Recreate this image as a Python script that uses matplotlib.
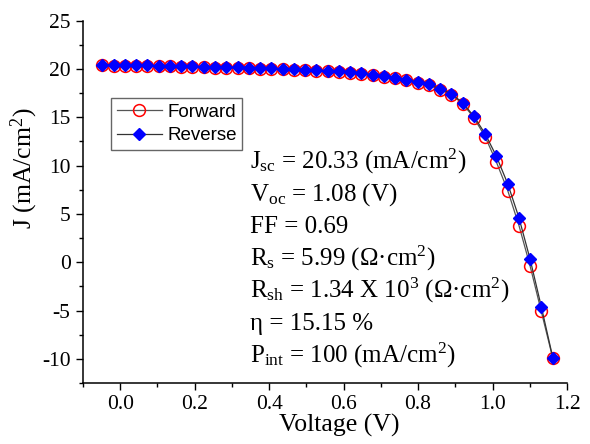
import numpy as np
import matplotlib
matplotlib.use("Agg")
import matplotlib.pyplot as plt

plt.rcParams['font.family'] = ['Liberation Serif', 'DejaVu Serif']
plt.rcParams['mathtext.fontset'] = 'custom'
plt.rcParams['mathtext.rm'] = 'Liberation Serif'
plt.rcParams['mathtext.default'] = 'regular'
plt.rcParams['axes.unicode_minus'] = False

# voltage (V)
voltage = [-0.048, -0.018, 0.012, 0.043, 0.073, 0.103, 0.133, 0.164, 0.194, 0.224,
           0.254, 0.285, 0.315, 0.345, 0.375, 0.406, 0.436, 0.466, 0.496, 0.527,
           0.557, 0.587, 0.617, 0.648, 0.678, 0.708, 0.738, 0.768, 0.799, 0.829,
           0.859, 0.889, 0.920, 0.950, 0.980, 1.010, 1.041, 1.071, 1.101, 1.131,
           1.162]
# current density (mA/cm2)
j_reverse = [20.45, 20.43, 20.41, 20.39, 20.37, 20.35, 20.33, 20.31, 20.28, 20.25,
             20.22, 20.19, 20.16, 20.13, 20.10, 20.06, 20.02, 19.98, 19.93, 19.88,
             19.82, 19.75, 19.66, 19.55, 19.42, 19.26, 19.10, 18.88, 18.65, 18.40,
             17.95, 17.45, 16.50, 15.10, 13.30, 11.00, 8.10, 4.60, 0.30, -4.60,
             -9.90]
j_forward = [20.38, 20.36, 20.34, 20.32, 20.30, 20.28, 20.26, 20.24, 20.21, 20.18,
             20.15, 20.12, 20.09, 20.06, 20.03, 19.99, 19.95, 19.91, 19.86, 19.81,
             19.75, 19.68, 19.59, 19.48, 19.35, 19.19, 19.03, 18.81, 18.58, 18.32,
             17.87, 17.35, 16.40, 14.95, 13.00, 10.40, 7.40, 3.80, -0.40, -5.10,
             -9.95]

xtick_vals = [0.0, 0.2, 0.4, 0.6, 0.8, 1.0, 1.2]
xtick_labels = ['0.0', '0.2', '0.4', '0.6', '0.8', '1.0', '1.2']
ytick_vals = [-10, -5, 0, 5, 10, 15, 20, 25]
ytick_labels = ['-10', '-5', '0', '5', '10', '15', '20', '25']

params = ['J$_{sc}$ = 20.33 (mA/cm$^{2}$)',
          'V$_{oc}$ = 1.08 (V)',
          'FF = 0.69',
          'R$_{s}$ = 5.99 (\u03a9\u00b7cm$^{2}$)',
          'R$_{sh}$ = 1.34 X 10$^{3}$ (\u03a9\u00b7cm$^{2}$)',
          '\u03b7 = 15.15 %',
          'P$_{int}$ = 100 (mA/cm$^{2}$)']

fig = plt.figure(figsize=(5.9, 4.44), dpi=100)
ax = fig.add_axes([0.1407, 0.1374, 0.8203, 0.816])

ax.plot(voltage, j_forward, color='#555555', lw=0.9, marker='o', ms=8.5,
        mfc='none', mec='red', mew=1.1, label='Forward')
ax.plot(voltage, j_reverse, color='#333333', lw=0.9, marker='D', ms=6.5,
        mfc='blue', mec='blue', label='Reverse')

ax.set_xlim(-0.1, 1.2)
ax.set_ylim(-12.5, 25)
ax.set_xticks(xtick_vals)
ax.set_xticks(np.arange(-0.1, 1.25, 0.1), minor=True)
ax.set_yticks(ytick_vals)
ax.set_yticks(np.arange(-12.5, 25.1, 2.5), minor=True)
ax.set_xticklabels(xtick_labels, fontfamily='Liberation Serif', fontsize=15.5)
ax.set_yticklabels(ytick_labels, fontfamily='Liberation Serif', fontsize=15.5)
ax.tick_params(which='major', direction='out', length=5, width=1, pad=4)
ax.tick_params(which='minor', direction='out', length=3, width=1)
ax.spines['top'].set_visible(False)
ax.spines['right'].set_visible(False)
ax.spines['left'].set_linewidth(1.1)
ax.spines['bottom'].set_linewidth(1.1)

ax.set_xlabel('Voltage (V)', fontsize=18.5)
ax.set_ylabel('J (mA/cm$^{2}$)', fontsize=18.5)
ax.xaxis.set_label_coords(0.53, -0.0856)
ax.yaxis.set_label_coords(-0.088, 0.592)

leg = ax.legend(loc='upper left', bbox_to_anchor=(0.058, 0.787), borderaxespad=0,
                fancybox=False, edgecolor='#666666', framealpha=1,
                prop={'family': 'Liberation Sans', 'size': 13.5},
                handlelength=2.4, handletextpad=0.3, borderpad=0.3, labelspacing=0.35)
leg.get_frame().set_linewidth(1.0)

ybase = 9.72
for s in params:
    ax.text(0.349, ybase, s, fontsize=18, va='baseline', ha='left')
    ybase -= 3.35

fig.savefig('out.png', dpi=100)
